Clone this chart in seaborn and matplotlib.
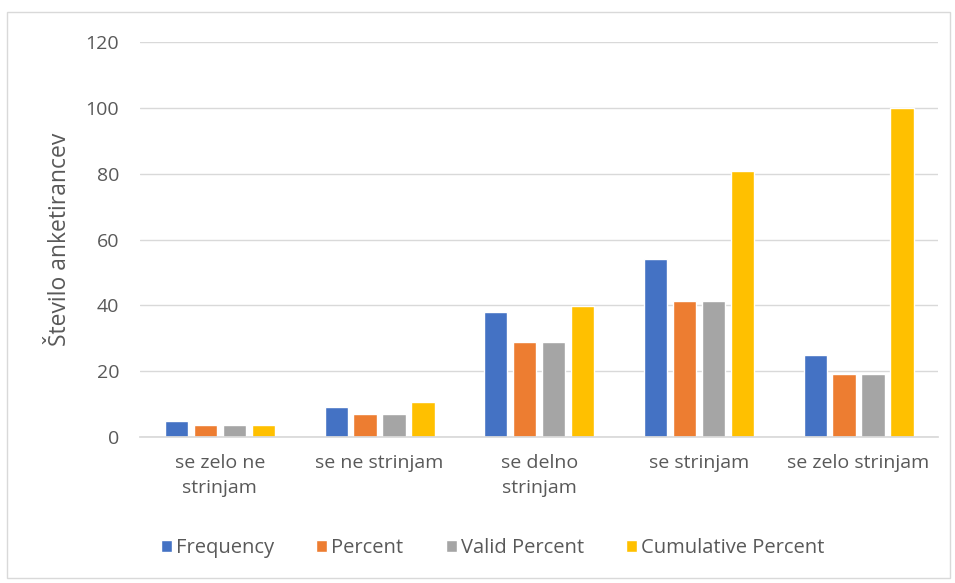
import matplotlib
matplotlib.use("Agg")
import matplotlib.pyplot as plt
import seaborn as sns
import pandas as pd
from matplotlib.patches import Rectangle

categories = ["se zelo ne\nstrinjam", "se ne strinjam", "se delno\nstrinjam",
              "se strinjam", "se zelo strinjam"]
series_names = ["Frequency", "Percent", "Valid Percent", "Cumulative Percent"]
frequency = [5, 9, 38, 54, 25]
percent = [3.8, 6.9, 29.0, 41.2, 19.1]
valid_percent = [3.8, 6.9, 29.0, 41.2, 19.1]
cumulative_percent = [3.8, 10.7, 39.7, 80.9, 100.0]
y_ticks = [0, 20, 40, 60, 80, 100, 120]
colors = ["#4472C4", "#ED7D31", "#A5A5A5", "#FFC000"]

rows = []
for name, vals in zip(series_names, [frequency, percent, valid_percent, cumulative_percent]):
    for cat, v in zip(categories, vals):
        rows.append({"category": cat, "series": name, "value": v})
df = pd.DataFrame(rows)

sns.set_theme(style="white")
plt.rcParams["font.family"] = ["Open Sans", "DejaVu Sans"]

fig = plt.figure(figsize=(9.55, 5.83), dpi=100)
ax = fig.add_axes([0.1466, 0.2504, 0.836, 0.6775])

sns.barplot(data=df, x="category", y="value", hue="series", order=categories,
            hue_order=series_names, palette=colors, width=0.725, gap=0.2,
            saturation=1, ax=ax, legend=True)

ax.set_ylim(0, 120)
ax.set_yticks(y_ticks)
ax.set_xlim(-0.5, len(categories) - 0.5)
ax.yaxis.grid(True, color="#D9D9D9", linewidth=1)
ax.set_axisbelow(True)
for side in ["top", "right", "left"]:
    ax.spines[side].set_visible(False)
ax.spines["bottom"].set_color("#D9D9D9")
ax.tick_params(axis="both", length=0, colors="#595959", labelsize=14)
ax.tick_params(axis="y", pad=15)
ax.tick_params(axis="x", pad=12)
for lbl in ax.get_xticklabels():
    lbl.set_linespacing(1.55)
ax.set_xlabel("")
ax.set_ylabel("Število anketirancev", fontsize=16.5, color="#595959", labelpad=10)

handles, labels = ax.get_legend_handles_labels()
ax.legend(handles, labels, loc="center", bbox_to_anchor=(0.516, 0.06),
          bbox_transform=fig.transFigure, ncol=4, frameon=False,
          fontsize=14.5, labelcolor="#595959", handlelength=0.55, handleheight=0.55,
          handletextpad=0.2, columnspacing=2.1)

fig.patches.append(Rectangle((0.007, 0.008), 0.988, 0.972, transform=fig.transFigure,
                             fill=False, edgecolor="#D9D9D9", linewidth=1))

fig.savefig("out.png", dpi=100)
